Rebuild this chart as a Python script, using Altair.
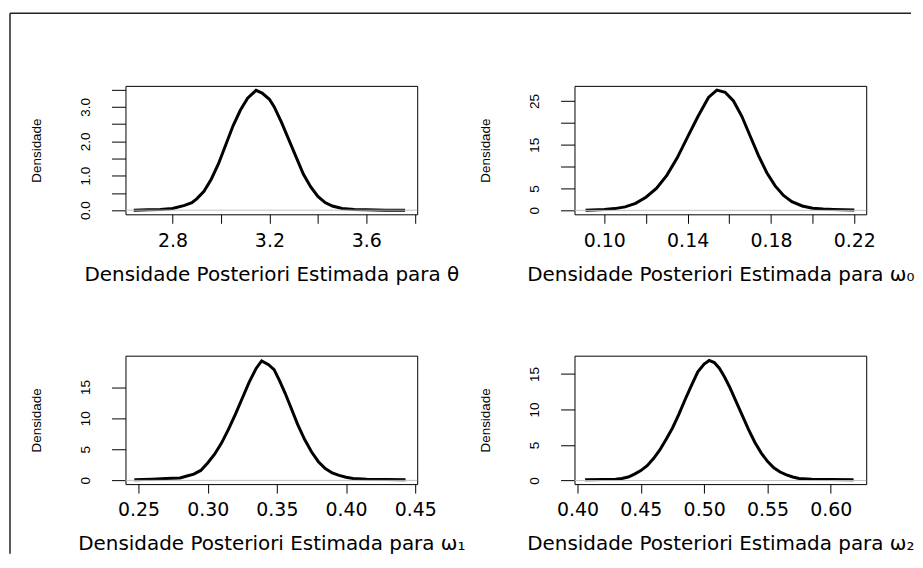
import altair as alt
import pandas as pd

# ---- data ----
theta_x = [2.64, 2.70, 2.75, 2.80, 2.85, 2.88, 2.90, 2.93, 2.96, 2.99, 3.02, 3.05, 3.08, 3.11, 3.145,
           3.17, 3.20, 3.22, 3.25, 3.28, 3.31, 3.34, 3.37, 3.40, 3.43, 3.46, 3.50, 3.55, 3.60, 3.68, 3.76]
theta_y = [0.00, 0.01, 0.02, 0.05, 0.14, 0.22, 0.33, 0.55, 0.90, 1.35, 1.90, 2.45, 2.90, 3.25, 3.48,
           3.40, 3.22, 3.00, 2.55, 2.05, 1.55, 1.05, 0.68, 0.40, 0.22, 0.12, 0.05, 0.02, 0.01, 0.00, 0.00]

w0_x = [0.091, 0.100, 0.105, 0.110, 0.115, 0.120, 0.125, 0.130, 0.135, 0.140, 0.145, 0.150, 0.154,
        0.158, 0.162, 0.166, 0.170, 0.174, 0.178, 0.182, 0.186, 0.190, 0.195, 0.200, 0.205, 0.210, 0.220]
w0_y = [0.0, 0.2, 0.4, 0.8, 1.6, 3.0, 5.0, 8.0, 12.0, 16.8, 21.5, 25.8, 27.5,
        27.0, 25.0, 21.5, 17.0, 12.5, 8.6, 5.6, 3.4, 2.0, 1.0, 0.5, 0.3, 0.2, 0.1]

w1_x = [0.247, 0.260, 0.270, 0.280, 0.285, 0.290, 0.295, 0.300, 0.305, 0.310, 0.315, 0.320, 0.325,
        0.330, 0.335, 0.339, 0.344, 0.348, 0.352, 0.356, 0.360, 0.365, 0.370, 0.375, 0.380, 0.385,
        0.390, 0.395, 0.400, 0.405, 0.415, 0.443]
w1_y = [0.1, 0.2, 0.3, 0.4, 0.7, 1.0, 1.6, 2.8, 4.2, 6.0, 8.2, 10.6, 13.2,
        15.8, 18.0, 19.2, 18.6, 17.8, 16.0, 14.0, 11.8, 9.0, 6.6, 4.6, 3.0, 1.9,
        1.2, 0.8, 0.5, 0.3, 0.2, 0.1]

w2_x = [0.406, 0.420, 0.430, 0.435, 0.440, 0.445, 0.450, 0.455, 0.460, 0.465, 0.470, 0.475, 0.480,
        0.485, 0.490, 0.495, 0.500, 0.504, 0.508, 0.512, 0.516, 0.520, 0.525, 0.530, 0.535, 0.540,
        0.545, 0.550, 0.555, 0.560, 0.565, 0.570, 0.575, 0.585, 0.600, 0.618]
w2_y = [0.1, 0.15, 0.2, 0.3, 0.5, 0.9, 1.4, 2.1, 3.1, 4.3, 5.8, 7.4, 9.3,
        11.4, 13.4, 15.3, 16.4, 16.9, 16.6, 15.8, 14.6, 13.2, 11.2, 9.2, 7.2, 5.4,
        3.9, 2.7, 1.8, 1.2, 0.8, 0.5, 0.3, 0.2, 0.15, 0.1]

# axis ticks and the labels that are shown
theta_xticks = [2.8, 3.0, 3.2, 3.4, 3.6, 3.8]
theta_xlabels = {2.8: "2.8", 3.2: "3.2", 3.6: "3.6"}
theta_yticks = [0.0, 0.5, 1.0, 1.5, 2.0, 2.5, 3.0, 3.5]
theta_ylabels = {0.0: "0.0", 1.0: "1.0", 2.0: "2.0", 3.0: "3.0"}

w0_xticks = [0.10, 0.12, 0.14, 0.16, 0.18, 0.20, 0.22]
w0_xlabels = {0.10: "0.10", 0.14: "0.14", 0.18: "0.18", 0.22: "0.22"}
w0_yticks = [0, 5, 10, 15, 20, 25]
w0_ylabels = {0: "0", 5: "5", 15: "15", 25: "25"}

w1_xticks = [0.25, 0.30, 0.35, 0.40, 0.45]
w1_xlabels = {0.25: "0.25", 0.30: "0.30", 0.35: "0.35", 0.40: "0.40", 0.45: "0.45"}
w1_yticks = [0, 5, 10, 15]
w1_ylabels = {0: "0", 5: "5", 10: "10", 15: "15"}

w2_xticks = [0.40, 0.45, 0.50, 0.55, 0.60]
w2_xlabels = {0.40: "0.40", 0.45: "0.45", 0.50: "0.50", 0.55: "0.55", 0.60: "0.60"}
w2_yticks = [0, 5, 10, 15]
w2_ylabels = {0: "0", 5: "5", 10: "10", 15: "15"}

titles = ["Densidade Posteriori Estimada para θ",
          "Densidade Posteriori Estimada para ω₀",
          "Densidade Posteriori Estimada para ω₁",
          "Densidade Posteriori Estimada para ω₂"]
ytitle = "Densidade"

# ---- styling ----
W, H = 293, 129
XFONT = "DejaVu Sans"
YFONT = "Liberation Sans"


def label_expr(labels):
    parts = [f"abs(datum.value - ({v})) < 1e-9 ? '{t}'" for v, t in labels.items()]
    return " : ".join(parts) + " : ''"


def panel(xs, ys, xdom, ydom, xticks, xlabels, yticks, ylabels, title, border=False):
    df = pd.DataFrame({"x": xs, "y": ys})
    xenc = alt.X("x:Q",
                 scale=alt.Scale(domain=xdom, nice=False, zero=False),
                 axis=alt.Axis(values=xticks, tickCount=50, labelExpr=label_expr(xlabels), title=title,
                               domain=False, grid=False, tickSize=9, tickColor="black", tickWidth=1,
                               labelFont=XFONT, labelFontSize=19, labelColor="black",
                               labelPadding=8, labelFlush=False, labelOverlap=False, labelBound=False,
                               titleFont=XFONT, titleFontSize=20, titleFontWeight="normal",
                               titleColor="black", titlePadding=14))
    yenc = alt.Y("y:Q",
                 scale=alt.Scale(domain=ydom, nice=False, zero=False),
                 axis=alt.Axis(values=yticks, tickCount=50, labelExpr=label_expr(ylabels), title=ytitle,
                               domain=False, grid=False, tickSize=14, tickColor="black", tickWidth=1,
                               labelFont=YFONT, labelFontSize=13.5, labelColor="black",
                               labelAngle=270, labelAlign="center", labelBaseline="middle",
                               labelPadding=26, labelFlush=False, labelOverlap=False, labelBound=False,
                               titleFont=YFONT, titleFontSize=13.5, titleFontWeight="normal",
                               titleColor="black", titleAngle=270, titleAlign="center",
                               titleBaseline="middle", titleX=-89, titleY=H / 2))
    zero = alt.Chart(pd.DataFrame({"z": [0]})).mark_rule(color="#c0c0c0", strokeWidth=1).encode(
        y=alt.datum(0))
    line = alt.Chart(df).mark_line(color="black", strokeWidth=3, clip=True).encode(x=xenc, y=yenc)
    layers = [line, zero]
    if border:
        top = alt.Chart(pd.DataFrame({"z": [0]})).mark_rule(color="#222222", strokeWidth=1.5).encode(
            x=alt.value(-116), x2=alt.value(789), y=alt.value(-73))
        left = alt.Chart(pd.DataFrame({"z": [0]})).mark_rule(color="#222222", strokeWidth=1.5).encode(
            x=alt.value(-116), y=alt.value(-73), y2=alt.value(470))
        layers += [top, left]
    return alt.layer(*layers).properties(width=W, height=H)


p1 = panel(theta_x, theta_y, [2.606, 3.81], [-0.12, 3.61],
           theta_xticks, theta_xlabels, theta_yticks, theta_ylabels, titles[0], border=True)
p2 = panel(w0_x, w0_y, [0.0857, 0.2257], [-0.9, 28.45],
           w0_xticks, w0_xlabels, w0_yticks, w0_ylabels, titles[1])
p3 = panel(w1_x, w1_y, [0.2406, 0.4514], [-0.6, 20.05],
           w1_xticks, w1_xlabels, w1_yticks, w1_ylabels, titles[2])
p4 = panel(w2_x, w2_y, [0.3976, 0.628], [-0.5, 17.57],
           w2_xticks, w2_xlabels, w2_yticks, w2_ylabels, titles[3])

chart = alt.concat(p1, p2, p3, p4, columns=2, spacing={"row": 142, "column": 158},
                   bounds="flush").properties(
    padding={"left": 0, "top": 2, "right": 0, "bottom": 0},
    background="white",
).configure_view(stroke="black", strokeWidth=1)

chart.save("out.html", embed_options={"renderer": "svg", "actions": False})
